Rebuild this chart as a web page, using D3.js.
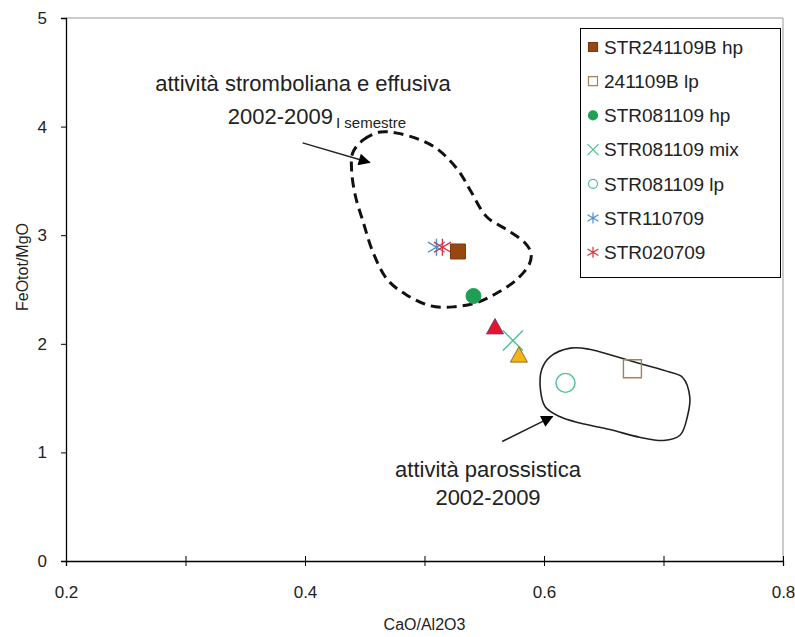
<!DOCTYPE html>
<html>
<head>
<meta charset="utf-8">
<script src="https://cdn.jsdelivr.net/npm/d3@7/dist/d3.min.js"></script>
<style>
body { margin: 0; background: #fff; }
svg text { font-family: "Liberation Sans", Arial, sans-serif; fill: #222; }
</style>
</head>
<body>
<div id="container"></div>
<script>
"use strict"

/* DATA
 */
const sampleNames = ["STR241109B hp", "241109B lp", "STR081109 hp", "STR081109 mix",
                     "STR081109 lp", "STR110709", "STR020709"];
const sampleCaoAl = [0.528, 0.674, 0.541, 0.574, 0.618, 0.510, 0.515];
const sampleFeMg  = [2.85, 1.77, 2.44, 2.03, 1.64, 2.89, 2.89];

// two triangles without a legend entry
const triangleCaoAl = [0.559, 0.579];
const triangleFeMg  = [2.15, 1.89];

// field of strombolian / effusive activity (dashed)
const stromboliField = [
    [0.440, 3.76], [0.449, 3.88], [0.463, 3.95], [0.477, 3.94], [0.496, 3.88],
    [0.510, 3.80], [0.521, 3.69], [0.530, 3.57], [0.539, 3.40], [0.552, 3.17],
    [0.569, 3.05], [0.584, 2.93], [0.589, 2.84], [0.588, 2.74], [0.577, 2.59],
    [0.561, 2.47], [0.544, 2.38], [0.524, 2.34], [0.505, 2.35], [0.485, 2.45],
    [0.469, 2.59], [0.457, 2.84], [0.449, 3.11], [0.442, 3.37], [0.439, 3.60]
];

// field of paroxysmal activity (solid)
const paroxField = [
    [0.605, 1.88], [0.622, 1.96], [0.638, 1.95], [0.661, 1.88], [0.683, 1.81],
    [0.705, 1.74], [0.716, 1.69], [0.722, 1.51], [0.720, 1.33], [0.714, 1.16],
    [0.700, 1.11], [0.680, 1.14], [0.655, 1.21], [0.630, 1.27], [0.613, 1.33],
    [0.601, 1.42], [0.597, 1.58], [0.598, 1.76]
];

// arrows: [from, to]
const stromboliArrow = [[0.398, 3.85], [0.454, 3.67]];
const paroxArrow = [[0.565, 1.10], [0.607, 1.33]];

const xTicks = [0.2, 0.3, 0.4, 0.5, 0.6, 0.7, 0.8];
const xTickLabels = ["0.2", "", "0.4", "", "0.6", "", "0.8"];
const yTicks = [0, 1, 2, 3, 4, 5];
const yTickLabels = ["0", "1", "2", "3", "4", "5"];

const xTitle = "CaO/Al2O3";
const yTitle = "FeOtot/MgO";
const stromboliText = ["attività stromboliana e effusiva", "2002-2009", "I semestre"];
const paroxText = ["attività parossistica", "2002-2009"];

/* CHART
 */
const W = 795, H = 637;
const svg = d3.select("#container").append("svg")
    .attr("width", W)
    .attr("height", H);

const x = d3.scaleLinear().domain([0.2, 0.8]).range([66, 783]);
const y = d3.scaleLinear().domain([0, 5]).range([561, 18]);

// plot frame (grey top and right)
svg.append("path")
    .attr("d", `M${x(0.2)},${y(5)}H${x(0.8)}V${y(0)}`)
    .attr("fill", "none")
    .attr("stroke", "#999")
    .attr("stroke-width", 1);

const xAxis = svg.append("g")
    .attr("transform", `translate(0,${y(0)})`)
    .call(d3.axisBottom(x)
        .tickValues(xTicks)
        .tickSize(5)
        .tickFormat((d, i) => xTickLabels[i]));
xAxis.selectAll(".tick line").attr("y1", -5).attr("y2", 5);
xAxis.selectAll("text")
    .attr("y", 25)
    .style("font-size", "17px");

const yAxis = svg.append("g")
    .attr("transform", `translate(${x(0.2)},0)`)
    .call(d3.axisLeft(y)
        .tickValues(yTicks)
        .tickSize(5)
        .tickFormat((d, i) => yTickLabels[i]));
yAxis.selectAll("text")
    .attr("x", -19)
    .style("font-size", "17px");
svg.selectAll(".domain").attr("stroke", "#000").attr("stroke-width", 1.3);
svg.selectAll(".tick line").attr("stroke", "#000");

svg.append("text")
    .attr("x", (x(0.2) + x(0.8)) / 2)
    .attr("y", 630)
    .attr("text-anchor", "middle")
    .style("font-size", "16px")
    .text(xTitle);

svg.append("text")
    .attr("transform", "translate(28,267) rotate(-90)")
    .attr("text-anchor", "middle")
    .style("font-size", "16px")
    .text(yTitle);

/* FIELDS AND ARROWS
 */
const fieldLine = d3.line()
    .curve(d3.curveCatmullRomClosed.alpha(0.5))
    .x((d) => x(d[0]))
    .y((d) => y(d[1]));

svg.append("path")
    .attr("d", fieldLine(stromboliField))
    .attr("fill", "none")
    .attr("stroke", "#111")
    .attr("stroke-width", 3)
    .attr("stroke-dasharray", "10,6");

svg.append("path")
    .attr("d", fieldLine(paroxField))
    .attr("fill", "none")
    .attr("stroke", "#222")
    .attr("stroke-width", 1.6);

svg.append("defs").append("marker")
    .attr("id", "head")
    .attr("viewBox", "0 0 10 10")
    .attr("refX", 9)
    .attr("refY", 5)
    .attr("markerUnits", "userSpaceOnUse")
    .attr("markerWidth", 15)
    .attr("markerHeight", 12)
    .attr("orient", "auto")
    .append("path")
    .attr("d", "M0,0L10,5L0,10Z")
    .attr("fill", "#000");

[stromboliArrow, paroxArrow].forEach((a) => {
    svg.append("line")
        .attr("x1", x(a[0][0])).attr("y1", y(a[0][1]))
        .attr("x2", x(a[1][0])).attr("y2", y(a[1][1]))
        .attr("stroke", "#222")
        .attr("stroke-width", 1.5)
        .attr("marker-end", "url(#head)");
});

/* ANNOTATIONS
 */
svg.append("text")
    .attr("x", 303).attr("y", 91)
    .attr("text-anchor", "middle")
    .style("font-size", "22px")
    .text(stromboliText[0]);
svg.append("text")
    .attr("x", 333).attr("y", 124)
    .attr("text-anchor", "end")
    .style("font-size", "22px")
    .text(stromboliText[1]);
svg.append("text")
    .attr("x", 336).attr("y", 128)
    .style("font-size", "15px")
    .text(stromboliText[2]);

svg.append("text")
    .attr("x", 488).attr("y", 477)
    .attr("text-anchor", "middle")
    .style("font-size", "22px")
    .text(paroxText[0]);
svg.append("text")
    .attr("x", 488).attr("y", 505)
    .attr("text-anchor", "middle")
    .style("font-size", "22px")
    .text(paroxText[1]);

/* MARKERS
 */
const styles = [
    {shape: "square", fill: "#964812", stroke: "#7a3a0e"},
    {shape: "square", fill: "none", stroke: "#a5825a"},
    {shape: "circle", fill: "#1f9e55", stroke: "#1f9e55"},
    {shape: "times", fill: "none", stroke: "#4cc090"},
    {shape: "circle", fill: "none", stroke: "#50c090"},
    {shape: "star", fill: "none", stroke: "#4a8fd0"},
    {shape: "star", fill: "none", stroke: "#e0303a"}
];

function markerPath(shape, s) {
    const h = s / 2;
    if (shape == "square") {
        return `M${-h},${-h}H${h}V${h}H${-h}Z`;
    } else if (shape == "circle") {
        return `M${h},0A${h},${h} 0 1,1 ${-h},0A${h},${h} 0 1,1 ${h},0Z`;
    } else if (shape == "times") {
        return `M${-h},${-h}L${h},${h}M${-h},${h}L${h},${-h}`;
    } else if (shape == "star") {
        return `M0,${-h}V${h}M${-h},${-h * 0.6}L${h},${h * 0.6}M${-h},${h * 0.6}L${h},${-h * 0.6}`;
    } else {
        return `M0,${-h * 1.05}L${h},${h * 0.75}H${-h}Z`;
    }
}

const plotSizes = [15, 18, 15, 20, 19, 17, 17];
// draw order so the asterisks sit behind the brown square
const drawOrder = [5, 6, 0, 1, 2, 3, 4];

const markers = svg.append("g");
drawOrder.forEach((i) => {
    const st = styles[i];
    markers.append("path")
        .attr("transform", `translate(${x(sampleCaoAl[i])},${y(sampleFeMg[i])})`)
        .attr("d", markerPath(st.shape, plotSizes[i]))
        .attr("fill", st.fill)
        .attr("stroke", st.stroke)
        .attr("stroke-width", st.fill == "none" ? 1.4 : 1);
});

const triFill = ["#e3142c", "#f2b51c"];
const triStroke = ["#7d3a78", "#9a6a25"];
triangleCaoAl.forEach((cx, i) => {
    markers.append("path")
        .attr("transform", `translate(${x(cx)},${y(triangleFeMg[i])})`)
        .attr("d", markerPath("triangle", 17))
        .attr("fill", triFill[i])
        .attr("stroke", triStroke[i])
        .attr("stroke-width", 1);
});

/* LEGEND
 */
const legend = svg.append("g");
legend.append("rect")
    .attr("x", 580.5).attr("y", 28.5)
    .attr("width", 200).attr("height", 249)
    .attr("fill", "#fff")
    .attr("stroke", "#000")
    .attr("stroke-width", 1);

sampleNames.forEach((name, i) => {
    const st = styles[i];
    const row = legend.append("g")
        .attr("transform", `translate(593,${47 + i * 34.2})`);
    row.append("path")
        .attr("d", markerPath(st.shape, st.shape == "times" || st.shape == "star" ? 11 : 9))
        .attr("fill", st.fill)
        .attr("stroke", st.stroke)
        .attr("stroke-width", 1.2);
    row.append("text")
        .attr("x", 11)
        .attr("dy", "0.36em")
        .style("font-size", "19px")
        .text(name);
});
</script>
</body>
</html>
